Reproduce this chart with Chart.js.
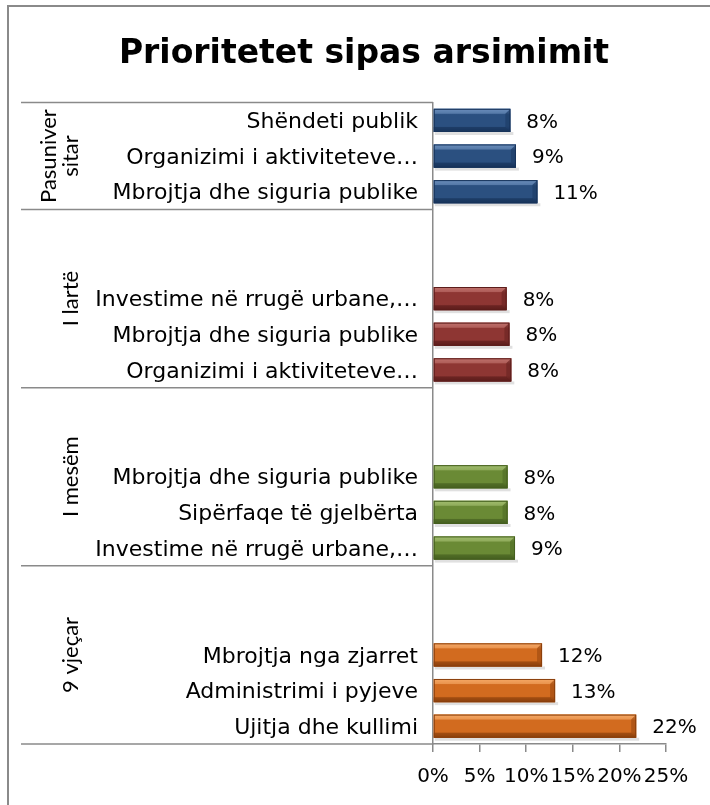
<!DOCTYPE html>
<html>
<head>
<meta charset="utf-8">
<script src="https://cdn.jsdelivr.net/npm/chart.js@4/dist/chart.umd.min.js"></script>
<style>
html,body{margin:0;padding:0;background:#fff;}
#wrap{width:710px;height:805px;position:relative;}
</style>
</head>
<body>
<div id="wrap"><canvas id="c" width="710" height="805"></canvas></div>
<script>
// ---- data ----
const categories = [
  'Shëndeti publik', 'Organizimi i aktiviteteve…', 'Mbrojtja dhe siguria publike',
  '', '', 'Investime në rrugë urbane,…', 'Mbrojtja dhe siguria publike', 'Organizimi i aktiviteteve…',
  '', '', 'Mbrojtja dhe siguria publike', 'Sipërfaqe të gjelbërta', 'Investime në rrugë urbane,…',
  '', '', 'Mbrojtja nga zjarret', 'Administrimi i pyjeve', 'Ujitja dhe kullimi'
];
const values = [
  8.3, 8.9, 11.2,
  null, null, 7.9, 8.2, 8.4,
  null, null, 8.0, 8.0, 8.8,
  null, null, 11.7, 13.1, 21.8
];
const groupNames = [['Pasuniver', 'sitar'], ['I lartë'], ['I mesëm'], ['9 vjeçar']];
const groupSizes = [3, 5, 5, 5];
const xTicks = [0, 5, 10, 15, 20, 25];

// ---- style ----
const groupColors = [
  {base:'#2B5080', dark:'#17335A', light:'#6A8DBB'},
  {base:'#8E3633', dark:'#5C1D1B', light:'#C0716C'},
  {base:'#6A8A35', dark:'#455F1F', light:'#A1BC6E'},
  {base:'#D26B1F', dark:'#8A3F0C', light:'#F5A866'}
];
const groupOfIndex = [];
groupSizes.forEach((n, g) => { for (let i = 0; i < n; i++) groupOfIndex.push(g); });

const FONT = '"DejaVu Sans", sans-serif';
const GFONT = 'Lato, "Open Sans", sans-serif';
const lineColor = '#8A8A8A';
const PADL = 62;

const framePlugin = {
  id: 'frame',
  beforeDraw(chart) {
    const c = chart.ctx;
    c.save();
    c.fillStyle = '#fff';
    c.fillRect(0, 0, chart.width, chart.height);
    c.strokeStyle = '#8A8A8A';
    c.lineWidth = 2;
    c.beginPath();
    c.moveTo(8, 805); c.lineTo(8, 6); c.lineTo(710, 6);
    c.stroke();
    c.restore();
  }
};

const bevelPlugin = {
  id: 'bevel',
  afterDatasetsDraw(chart) {
    const c = chart.ctx;
    const meta = chart.getDatasetMeta(0);
    c.save();
    meta.data.forEach((bar, i) => {
      if (values[i] == null) return;
      const col = groupColors[groupOfIndex[i]];
      const x0 = bar.base, x1 = bar.x;
      const h = bar.height, y0 = bar.y - h / 2, y1 = bar.y + h / 2;
      // shadow
      c.fillStyle = 'rgba(0,0,0,0.12)';
      c.fillRect(x0 + 1, y1, x1 - x0 + 2, 3);
      // body gradient
      const g = c.createLinearGradient(0, y0, 0, y1);
      g.addColorStop(0, col.light);
      g.addColorStop(0.25, col.base);
      g.addColorStop(0.75, col.base);
      g.addColorStop(1, col.dark);
      c.fillStyle = g;
      c.fillRect(x0, y0, x1 - x0, h);
      const b = 5;
      // top bevel
      c.fillStyle = col.light;
      c.globalAlpha = 0.6;
      c.beginPath();
      c.moveTo(x0, y0); c.lineTo(x1, y0); c.lineTo(x1 - b, y0 + b); c.lineTo(x0, y0 + b); c.closePath();
      c.fill();
      // bottom bevel
      c.fillStyle = col.dark;
      c.globalAlpha = 0.6;
      c.beginPath();
      c.moveTo(x0, y1); c.lineTo(x1, y1); c.lineTo(x1 - b, y1 - b); c.lineTo(x0, y1 - b); c.closePath();
      c.fill();
      // right bevel
      c.globalAlpha = 0.45;
      c.beginPath();
      c.moveTo(x1, y0); c.lineTo(x1, y1); c.lineTo(x1 - b, y1 - b); c.lineTo(x1 - b, y0 + b); c.closePath();
      c.fill();
      c.globalAlpha = 1;
      c.strokeStyle = col.dark;
      c.lineWidth = 1;
      c.strokeRect(x0 + 0.5, y0 + 0.5, x1 - x0 - 1, h - 1);
      // data label
      c.fillStyle = '#000';
      c.font = '20px ' + FONT;
      c.textAlign = 'left';
      c.textBaseline = 'middle';
      c.fillText(Math.round(values[i]) + '%', x1 + 16, bar.y + 2);
    });
    c.restore();
  }
};

const groupPlugin = {
  id: 'groups',
  afterDraw(chart) {
    const c = chart.ctx;
    const ys = chart.scales.y;
    const area = chart.chartArea;
    const half = (ys.getPixelForValue(1) - ys.getPixelForValue(0)) / 2;
    c.save();
    c.strokeStyle = lineColor;
    c.lineWidth = 1.5;
    let idx = 0;
    const bounds = [ys.top];
    groupSizes.forEach(n => { idx += n; bounds.push(ys.getPixelForValue(idx - 1) + half); });
    bounds.forEach(y => {
      c.beginPath(); c.moveTo(21, y); c.lineTo(area.left, y); c.stroke();
    });
    c.fillStyle = '#000';
    c.font = '22px ' + GFONT;
    c.textAlign = 'center';
    c.textBaseline = 'middle';
    groupNames.forEach((lines, g) => {
      const cy = (bounds[g] + bounds[g + 1]) / 2;
      lines.forEach((t, k) => {
        const cx = 71 - (lines.length - 1 - k) * 22;
        c.save();
        c.translate(cx, cy);
        c.rotate(-Math.PI / 2);
        c.fillText(t, 0, 0);
        c.restore();
      });
    });
    c.restore();
  }
};

new Chart(document.getElementById('c'), {
  type: 'bar',
  data: {
    labels: categories,
    datasets: [{
      data: values,
      backgroundColor: values.map((v, i) => groupColors[groupOfIndex[i]].base),
      borderWidth: 0,
      barPercentage: 0.65,
      categoryPercentage: 1
    }]
  },
  options: {
    indexAxis: 'y',
    responsive: false,
    animation: false,
    layout: { padding: { left: PADL, right: 44, top: 0, bottom: 0 } },
    plugins: {
      legend: { display: false },
      tooltip: { enabled: false },
      title: {
        display: true,
        text: 'Prioritetet sipas arsimimit',
        color: '#000',
        font: { family: FONT, size: 33, weight: 'bold', lineHeight: 1.2 },
        padding: { top: 35, bottom: 28 }
      }
    },
    scales: {
      x: {
        min: 0, max: 25,
        afterBuildTicks(s) { s.ticks = xTicks.map(v => ({ value: v })); },
        afterFit(s) { s.height = 805 - 744; },
        grid: { display: true, drawOnChartArea: false, drawTicks: true, tickLength: 8, color: lineColor, lineWidth: 1.5 },
        border: { display: true, color: lineColor, width: 1.5 },
        ticks: {
          autoSkip: false, maxRotation: 0, padding: 13,
          color: '#000', font: { family: FONT, size: 20 },
          callback: v => v + '%'
        }
      },
      y: {
        afterFit(s) { s.width = 433 - PADL; },
        grid: { display: false, drawTicks: false },
        border: { display: true, color: lineColor, width: 1.5 },
        ticks: { autoSkip: false, padding: 15, labelOffset: 2, color: '#000', font: { family: FONT, size: 22 } }
      }
    }
  },
  plugins: [framePlugin, bevelPlugin, groupPlugin]
});
</script>
</body>
</html>
